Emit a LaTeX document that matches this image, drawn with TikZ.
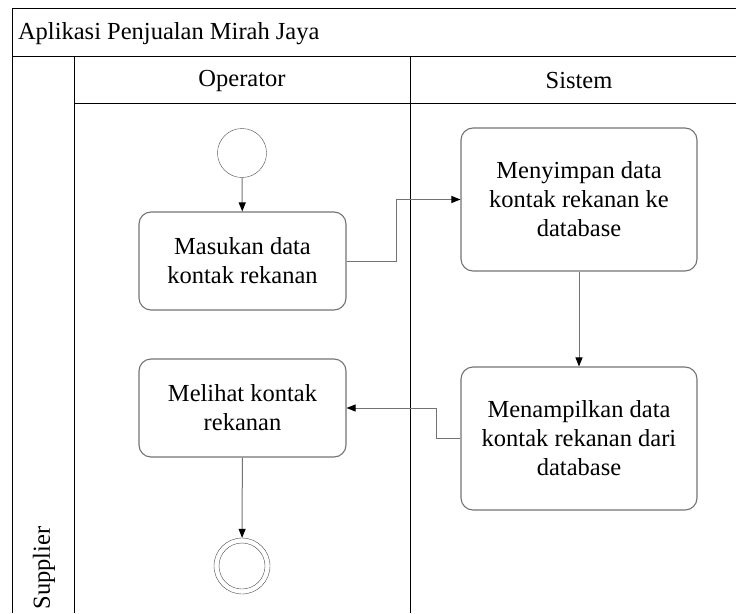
\documentclass[tikz,border=0pt]{standalone}
\usepackage{fontspec}
\setmainfont{Liberation Serif}
\usetikzlibrary{arrows.meta}

\tikzset{
  actbox/.style={draw=black!55, line width=1.1pt, rounded corners=12pt, align=center, inner sep=0pt},
  smallact/.style={actbox, minimum width=207pt, minimum height=98pt},
  bigact/.style={actbox, minimum width=236pt, minimum height=143pt},
  dot/.style={circle, draw=black!70, inner sep=0pt},
  flow/.style={draw=black!55, line width=1pt, -{Triangle[length=9pt,width=7pt,color=black]}}
}

\begin{document}
\begin{tikzpicture}[x=1pt, y=-1pt, font=\fontsize{24.5}{29}\selectfont]
  \useasboundingbox (0,0) rectangle (736,613);

  \draw (12,613) -- (12,8) -- (736,8);
  \draw (12,56) -- (736,56);
  \draw (74,103) -- (736,103);
  \draw (74,56) -- (74,613);
  \draw (410,56) -- (410,613);

  \node[anchor=west] (judul) at (14.5,34) {Aplikasi Penjualan Mirah Jaya};
  \node (operator) at (242,80.5) {Operator};
  \node (sistem) at (579,80.5) {Sistem};
  \node[rotate=90] (supplier) at (44,568) {Supplier};

  \node[dot, minimum size=49pt] (mulai) at (242,153) {};
  \node[smallact] (masuk) at (242.5,261) {Masukan data\\kontak rekanan};
  \node[bigact] (simpan) at (579,199.5) {Menyimpan data\\kontak rekanan ke\\database};
  \node[bigact] (tampil) at (579,438.5) {Menampilkan data\\kontak rekanan dari\\database};
  \node[smallact] (lihat) at (242.5,408) {Melihat kontak\\rekanan};
  \node[dot, minimum size=56pt] (selesai) at (242,566) {};
  \node[dot, minimum size=46pt] (selesaiin) at (selesai) {};

  \draw[flow] (mulai) -- (masuk);
  \draw[flow] (masuk.east) -- ++(50,0) |- (simpan.west);
  \draw[flow] (simpan) -- (tampil);
  \draw[flow] (tampil.west) -- ++(-24,0) |- (lihat.east);
  \draw[flow] (lihat) -- (selesai);
\end{tikzpicture}
\end{document}
